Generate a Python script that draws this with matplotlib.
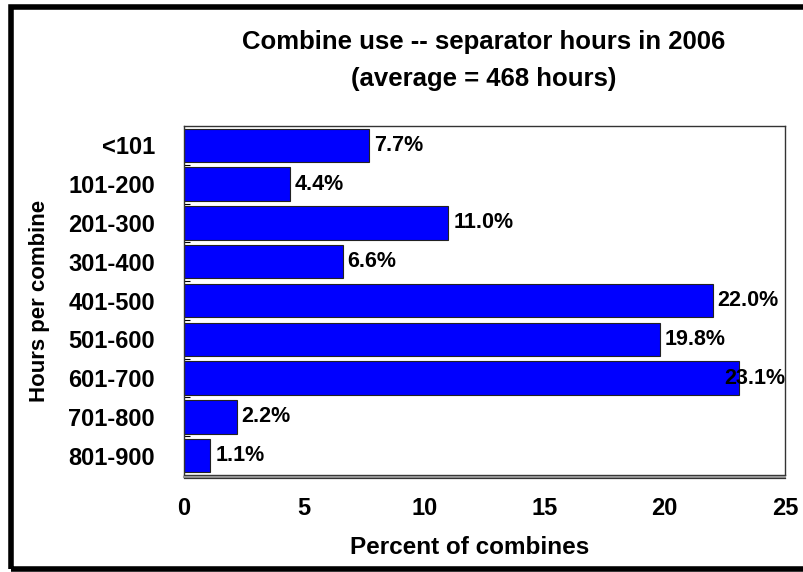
import matplotlib.pyplot as plt
from matplotlib.patches import Rectangle
from matplotlib.lines import Line2D

categories = ['<101', '101-200', '201-300', '301-400', '401-500',
              '501-600', '601-700', '701-800', '801-900']
percents = [7.7, 4.4, 11.0, 6.6, 22.0, 19.8, 23.1, 2.2, 1.1]
xticks = [0, 5, 10, 15, 20, 25]

plt.rcParams['font.family'] = ['Liberation Sans', 'DejaVu Sans']
plt.rcParams['font.weight'] = 'bold'

W, H = 804, 572
fig = plt.figure(figsize=(W / 100, H / 100), dpi=100)
ax = fig.add_axes([184 / W, 1 - 475 / H, 601 / W, 349 / H])

ypos = list(range(len(categories)))
ax.barh(ypos, percents, height=0.86, color='#0000ff', edgecolor='#222222', linewidth=0.8)
ax.set_ylim(len(categories) - 0.5, -0.5)
ax.set_xlim(0, 25)

for y, v in zip(ypos, percents):
    label = f'{v:.1f}%'
    if v > 22.5:
        # label pushed back inside the frame
        ax.text(25, y, label, ha='right', va='center', fontsize=15.5, fontweight='bold')
    else:
        ax.text(v + 0.2, y, label, ha='left', va='center', fontsize=15.5, fontweight='bold')

ax.set_yticks(ypos)
ax.set_yticklabels(categories, fontsize=17, fontweight='bold')
ax.set_yticks([y + 0.5 for y in ypos[:-1]], minor=True)
ax.tick_params(axis='y', which='major', length=0, pad=21)
ax.tick_params(axis='y', which='minor', length=4, direction='in', width=0.8)

ax.set_xticks(xticks)
ax.set_xticklabels([str(t) for t in xticks], fontsize=17, fontweight='bold')
ax.tick_params(axis='x', length=0, pad=16)

for s in ax.spines.values():
    s.set_color('#333333')
    s.set_linewidth(1)

# doubled bottom rule
fig.add_artist(Line2D([184 / W, 785 / W], [1 - 476.5 / H] * 2, color='#999999', lw=1.5))
fig.add_artist(Line2D([184 / W, 785 / W], [1 - 478.3 / H] * 2, color='#333333', lw=0.9))

ax.set_xlabel('Percent of combines', fontsize=17.5, fontweight='bold')
ax.xaxis.set_label_coords((470 - 184) / 601, (475 - 536) / 349)
ax.set_ylabel('Hours per combine', fontsize=16, fontweight='bold')
ax.yaxis.set_label_coords((40 - 184) / 601, 0.5)
ax.yaxis.label.set_va('center')

fig.text(484 / W, 1 - 42 / H, 'Combine use -- separator hours in 2006',
         ha='center', va='center', fontsize=18.5, fontweight='bold')
fig.text(484 / W, 1 - 79 / H, '(average = 468 hours)',
         ha='center', va='center', fontsize=18.5, fontweight='bold')

fig.add_artist(Rectangle((11 / W, 3 / H), 810 / W, 1 - 10 / H, transform=fig.transFigure,
                         fill=False, edgecolor='black', linewidth=4))

fig.savefig('out.png', dpi=100)
